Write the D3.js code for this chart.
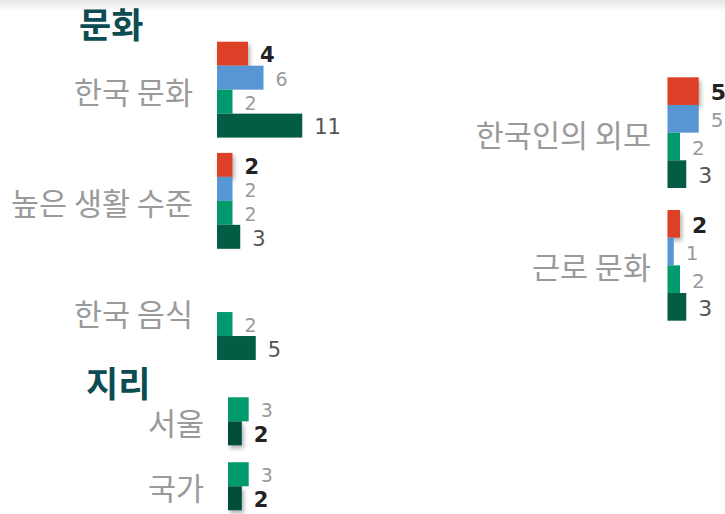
<!DOCTYPE html>
<html>
<head>
<meta charset="utf-8">
<script src="https://cdn.jsdelivr.net/npm/d3@7"></script>
<style>
  body { margin: 0; background: #fff; }
  .title { font-family: 'Noto Sans CJK KR', sans-serif; font-weight: 700; fill: #0d4c52; }
  .cat { font-family: 'Noto Sans CJK KR', sans-serif; fill: #9a9a9a; }
  .num { font-family: 'DejaVu Sans', sans-serif; }
</style>
</head>
<body>
<script>
// Series keys and colours
const seriesKeys = ['s1', 's2', 's3', 's4'];
const seriesColors = ['#dd4128', '#5795d3', '#009a6d', '#035c44'];

// Culture panel (left)
const cultureCats = ['한국 문화', '높은 생활 수준', '한국 음식'];
const cultureValues = [
  [4, 6, 2, 11],
  [2, 2, 2, 3],
  [null, null, 2, 5],
];

// Culture panel (right)
const cultureCats2 = ['한국인의 외모', '근로 문화'];
const cultureValues2 = [
  [5, 5, 2, 3],
  [2, 1, 2, 3],
];

// Geography panel
const geoKeys = ['s3', 's4'];
const geoCats = ['서울', '국가'];
const geoValues = [
  [3, 2],
  [3, 2],
];

const titles = ['문화', '지리'];

const width = 725;
const height = 514;

const svg = d3.select('body')
  .append('svg')
    .attr('width', width)
    .attr('height', height);

const defs = svg.append('defs');

// top shadow band
const grad = defs.append('linearGradient')
    .attr('id', 'topfade')
    .attr('x1', 0).attr('y1', 0).attr('x2', 0).attr('y2', 1);
grad.append('stop').attr('offset', '0%').attr('stop-color', '#e6e6e6');
grad.append('stop').attr('offset', '100%').attr('stop-color', '#ffffff');

svg.append('rect')
    .attr('width', width)
    .attr('height', 12)
    .attr('fill', 'url(#topfade)');

const shadow = defs.append('filter')
    .attr('id', 'shadow')
    .attr('x', '-20%').attr('y', '-20%')
    .attr('width', '160%').attr('height', '160%');
shadow.append('feDropShadow')
    .attr('dx', 2).attr('dy', 3)
    .attr('stdDeviation', 2)
    .attr('flood-color', '#000')
    .attr('flood-opacity', 0.3);

const colorOf = d3.scaleOrdinal().domain(seriesKeys).range(seriesColors);

function drawPanel(opts) {
  const rows = opts.cats.map((c, i) => ({
    cat: c,
    bars: opts.keys.map((k, j) => ({ key: k, value: opts.values[i][j] }))
      .filter((b) => b.value != null),
  }));

  const maxVal = d3.max(opts.values.flat());
  const x = d3.scaleLinear()
      .domain([0, maxVal])
      .range([opts.x0, opts.x0 + opts.unit * maxVal]);

  const yGroup = d3.scaleBand()
      .domain(opts.cats)
      .range(opts.yRange)
      .paddingInner(opts.pad)
      .paddingOuter(0);

  const yBar = d3.scaleBand()
      .domain(opts.keys)
      .range([0, yGroup.bandwidth()]);

  const g = svg.append('g');

  const groups = g.selectAll('g.grp')
      .data(rows)
    .enter().append('g')
      .attr('class', 'grp')
      .attr('transform', (d) => `translate(0, ${yGroup(d.cat)})`);

  groups.append('text')
      .attr('class', 'cat')
      .attr('x', opts.labelX)
      .attr('y', yGroup.bandwidth() / 2 + 1)
      .attr('text-anchor', 'end')
      .attr('dominant-baseline', 'central')
      .style('font-size', opts.catSize + 'px')
      .text((d) => d.cat);

  const bars = groups.selectAll('g.bar')
      .data((d) => d.bars)
    .enter().append('g')
      .attr('class', 'bar');

  bars.append('rect')
      .attr('x', x(0))
      .attr('y', (d) => yBar(d.key))
      .attr('width', (d) => x(d.value) - x(0))
      .attr('height', yBar.bandwidth())
      .attr('fill', (d) => opts.colors ? opts.colors[d.key] : colorOf(d.key))
      .attr('filter', (d) => d.key === opts.highlight ? 'url(#shadow)' : null);

  const big = (d) => d.key === opts.highlight || d.key === 's4';

  bars.append('text')
      .attr('class', 'num')
      .attr('x', (d) => x(d.value) + 12)
      .attr('y', (d) => yBar(d.key) + yBar.bandwidth() / 2)
      .attr('dy', '0.42em')
      .style('font-size', (d) => (big(d) ? opts.numSize + 2 : opts.numSize) + 'px')
      .style('font-weight', (d) => d.key === opts.highlight ? 700 : 400)
      .attr('fill', (d) => {
        if (d.key === opts.highlight) return '#222';
        return d.key === 's4' ? '#555' : '#9a9a9a';
      })
      .text((d) => d.value);
}

// Titles
svg.append('text')
    .attr('class', 'title')
    .attr('x', 79)
    .attr('y', 38)
    .style('font-size', '35px')
    .text(titles[0]);

svg.append('text')
    .attr('class', 'title')
    .attr('x', 86)
    .attr('y', 397)
    .style('font-size', '35px')
    .text(titles[1]);

drawPanel({
  cats: cultureCats, keys: seriesKeys, values: cultureValues,
  x0: 217, unit: 7.75, yRange: [41.7, 360], pad: 0.1375,
  labelX: 193, catSize: 30.5, numSize: 19, highlight: 's1',
});

drawPanel({
  cats: cultureCats2, keys: seriesKeys, values: cultureValues2,
  x0: 667.5, unit: 6.25, yRange: [77.3, 320.7], pad: 0.166,
  labelX: 651, catSize: 30.5, numSize: 20, highlight: 's1',
});

drawPanel({
  cats: geoCats, keys: geoKeys, values: geoValues,
  x0: 228, unit: 6.9, yRange: [397.3, 510.3], pad: 0.26,
  labelX: 204, catSize: 30.5, numSize: 19, highlight: 's4',
  colors: { s3: '#009a6d', s4: '#034d38' },
});
</script>
</body>
</html>
